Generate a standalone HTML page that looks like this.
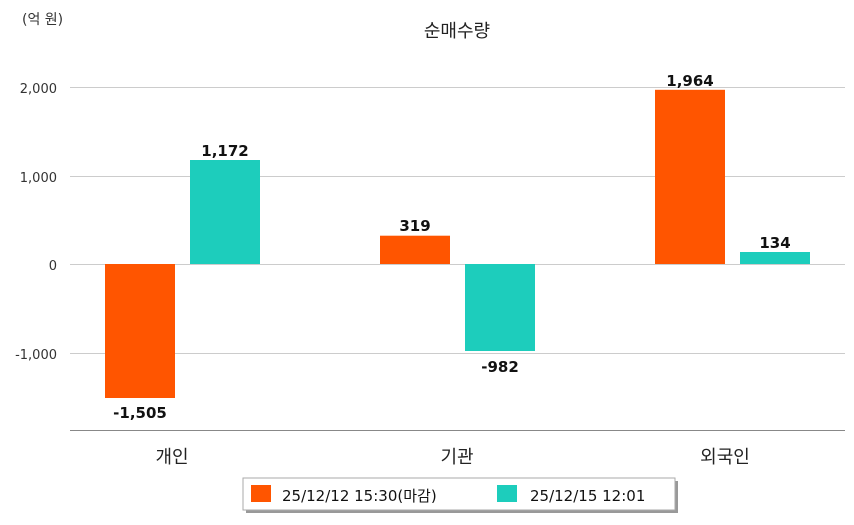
<!DOCTYPE html>
<html><head><meta charset="utf-8"><style>
body{margin:0;background:#fff;}
svg text{font-family:"DejaVu Sans","Noto Sans CJK KR",sans-serif;}
</style></head><body>
<svg width="854" height="520" xmlns="http://www.w3.org/2000/svg">
<rect width="854" height="520" fill="#fff"/>
<text x="22" y="24" font-size="14" fill="#333">(억 원)</text>
<text x="457" y="37" font-size="18" fill="#222" text-anchor="middle">순매수량</text>
<g stroke="#ccc" stroke-width="1">
<line x1="70" y1="87.5" x2="845" y2="87.5"/>
<line x1="70" y1="176.5" x2="845" y2="176.5"/>
<line x1="70" y1="264.5" x2="845" y2="264.5"/>
<line x1="70" y1="353.5" x2="845" y2="353.5"/>
</g>
<line x1="70" y1="430.5" x2="845" y2="430.5" stroke="#888"/>
<g font-size="13" fill="#333" text-anchor="end">
<text x="57" y="93">2,000</text>
<text x="57" y="182">1,000</text>
<text x="57" y="270">0</text>
<text x="57" y="359">-1,000</text>
</g>
<g fill="#FF5500">
<rect x="105" y="264" width="70" height="134"/>
<rect x="380" y="235.7" width="70" height="28.3"/>
<rect x="655" y="89.8" width="70" height="174.2"/>
</g>
<g fill="#1DCDBC">
<rect x="190" y="160" width="70" height="104"/>
<rect x="465" y="264" width="70" height="87"/>
<rect x="740" y="252" width="70" height="12"/>
</g>
<g font-size="15" fill="#111" text-anchor="middle" font-weight="600">
<text x="140" y="418">-1,505</text>
<text x="225" y="156">1,172</text>
<text x="415" y="231">319</text>
<text x="500" y="372">-982</text>
<text x="690" y="86">1,964</text>
<text x="775" y="248">134</text>
</g>
<g font-size="18" fill="#222" text-anchor="middle">
<text x="172" y="463">개인</text>
<text x="457" y="463">기관</text>
<text x="725" y="463">외국인</text>
</g>
<rect x="246" y="481" width="432" height="32" fill="#999"/>
<rect x="243" y="478" width="432" height="32" fill="#fff" stroke="#aaa"/>
<rect x="251" y="485" width="20" height="17" fill="#FF5500"/>
<text x="282" y="501" font-size="15" fill="#111">25/12/12 15:30(마감)</text>
<rect x="497" y="485" width="20" height="17" fill="#1DCDBC"/>
<text x="530" y="501" font-size="15" fill="#111">25/12/15 12:01</text>
</svg>
</body></html>
